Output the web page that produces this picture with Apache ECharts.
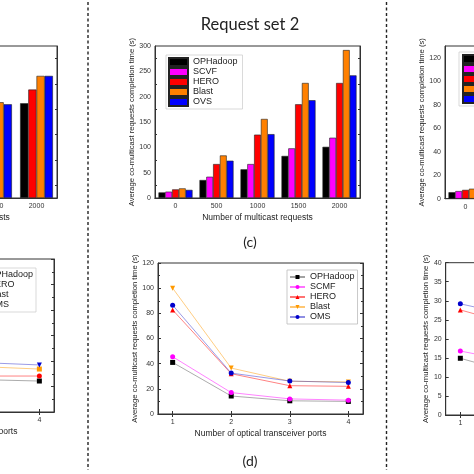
<!DOCTYPE html>
<html><head><meta charset="utf-8">
<script src="https://cdn.jsdelivr.net/npm/echarts@6/dist/echarts.min.js"></script>
<style>html,body{margin:0;padding:0;background:#fff}#c{width:474px;height:474px}</style>
</head><body><div id="c"></div>
<script>
// ---------- data ----------
const requestCats = ['0', '500', '1000', '1500', '2000'];
const portValues = [1, 2, 3, 4];
const rtLabelTicks = [0, 20, 40, 60, 80, 100, 120];

// (c) Request set 2, bars
const cOPHadoop = [11, 35.5, 56.6, 83, 101];
const cSCVF     = [12.5, 42, 67, 98, 119];
const cHERO     = [17, 67, 125, 185, 227];
const cBlast    = [19, 84, 156, 227, 292];
const cOVS      = [16, 73.6, 126, 193, 242];

// (d) lines vs optical transceiver ports
const dOPHadoop = [41, 14.3, 10.5, 10];
const dSCMF     = [45.5, 17, 12, 11];
const dHERO     = [82.7, 32, 22.5, 22];
const dBlast    = [100, 36.5, 26, 25.5];
const dOMS      = [86.5, 32.5, 26.2, 25];

// left (cut) panels
const ltOPHadoop = [null, null, null, null, 187];
const ltHERO     = [null, null, null, null, 214];
const ltBlast    = [null, null, null, 189, 241];
const ltOMS      = [null, null, null, 185, 241];
const lbOPHadoop = [null, null, 25.4, 24.3];
const lbHERO     = [null, null, 28.2, 28.2];
const lbBlast    = [null, null, 35.6, 33.7];
const lbOMS      = [null, null, 38.8, 36.9];

// right (cut) panels
const rtOPHadoop = [5.5, null, null, null, null];
const rtSCMF     = [6.5, null, null, null, null];
const rtHERO     = [7.5, null, null, null, null];
const rtBlast    = [8.5, null, null, null, null];
const rbOPHadoop = [14.9, 10.6, null, null];
const rbSCMF     = [16.8, 13.8, null, null];
const rbHERO     = [27.6, 23.3, null, null];
const rbOMS      = [29.2, 25.8, null, null];

// ---------- styling helpers ----------
const COL = {black:'#000000', mag:'#ff00ff', red:'#ff0000', orange:'#ff8000', blue:'#0000ff'};
const FONT = 'Liberation Sans';
const TXT = '#333';
const YNAME = 'Average co-multicast requests completion time (s)';
const z = n => '\u200b'.repeat(n);

const grids = [
  {left:155, top:46, width:205, height:152},      // 0 (c)
  {left:158, top:263, width:205, height:151},     // 1 (d)
  {left:-148, top:46, width:205, height:152},     // 2 left top
  {left:-151, top:259, width:205, height:153},    // 3 left bottom
  {left:445, top:46, width:205, height:152.7},    // 4 right top
  {left:445.7, top:262.7, width:205, height:152.3}// 5 right bottom
].map(g => Object.assign({show:true, borderColor:'#333', borderWidth:1, backgroundColor:'transparent',
  containLabel:false, outerBoundsMode:'none'}, g));

const xAxes = [], yAxes = [];
function catX(g, name) {
  const base = {type:'category', gridIndex:g, data:requestCats,
    axisLine:{lineStyle:{color:'#333', width:1}},
    axisTick:{inside:true, alignWithLabel:true, length:3, lineStyle:{color:'#333'}},
    splitLine:{show:false}};
  xAxes.push(Object.assign({}, base, {position:'bottom',
    axisLabel:{fontSize:7, color:TXT, margin:5, fontFamily:FONT},
    name:name, nameLocation:'middle', nameGap:15,
    nameTextStyle:{fontSize:8.5, color:'#222', fontFamily:FONT}}));
  xAxes.push(Object.assign({}, base, {position:'top', axisLabel:{show:false}}));
}
function valX(g, name) {
  const base = {type:'value', gridIndex:g, min:0.75, max:4.25,
    axisLine:{show:true, lineStyle:{color:'#333', width:1}},
    axisTick:{inside:true, length:3, customValues:portValues, lineStyle:{color:'#333'}},
    splitLine:{show:false}};
  xAxes.push(Object.assign({}, base, {position:'bottom',
    axisLabel:{fontSize:7, color:TXT, margin:5, fontFamily:FONT, customValues:portValues},
    name:name, nameLocation:'middle', nameGap:15,
    nameTextStyle:{fontSize:8.5, color:'#222', fontFamily:FONT}}));
  xAxes.push(Object.assign({}, base, {position:'top', axisLabel:{show:false}}));
}
function valY(g, max, interval, nameGap, labelValues, minorSplit) {
  const base = {type:'value', gridIndex:g, min:0, max:max, interval:interval,
    axisLine:{show:true, lineStyle:{color:'#333', width:1}},
    axisTick:{inside:true, length:3, lineStyle:{color:'#333'}},
    minorTick:{show:minorSplit > 1, splitNumber:minorSplit || 1, length:2, lineStyle:{color:'#333'}},
    splitLine:{show:false}, minorSplitLine:{show:false}};
  const lab = {fontSize:7, color:TXT, margin:4, fontFamily:FONT};
  if (labelValues) lab.customValues = labelValues;
  yAxes.push(Object.assign({}, base, {position:'left', axisLabel:lab,
    name:YNAME, nameLocation:'middle', nameRotate:90, nameGap:nameGap,
    nameTextStyle:{fontSize:7.6, color:'#222', fontFamily:FONT}}));
  yAxes.push(Object.assign({}, base, {position:'right', axisLabel:{show:false}}));
}

catX(0, 'Number of multicast requests');        valY(0, 300, 50, 18, null, 2);
valX(1, 'Number of optical transceiver ports'); valY(1, 120, 20, 19, null, 2);
catX(2, 'Number of multicast requests');        valY(2, 300, 50, 18, null, 2);
valX(3, 'Number of optical transceiver ports'); valY(3, 120, 20, 19, null, 2);
catX(4, 'Number of multicast requests');        valY(4, 130, 10, 17, rtLabelTicks, 1);
valX(5, 'Number of optical transceiver ports'); valY(5, 40, 5, 12, null, 1);

const series = [];
function bars(g, name, data, color, gap) {
  series.push({type:'bar', name:name, xAxisIndex:2*g, yAxisIndex:2*g, data:data,
    barGap:'0%', barCategoryGap:gap,
    itemStyle:{color:color, borderColor:'#222', borderWidth:0.6}});
}
function line(g, name, ys, color, symbol, rotate, lineColor) {
  series.push({type:'line', name:name, xAxisIndex:2*g, yAxisIndex:2*g,
    data:portValues.map((x, i) => [x, ys[i]]),
    symbol:symbol, symbolRotate:rotate || 0, symbolSize:5,
    itemStyle:{color:color},
    lineStyle:{color:lineColor || color, width:0.9, opacity:0.55}});
}

// (c)
bars(0, 'OPHadoop', cOPHadoop, COL.black, '17%');
bars(0, 'SCVF', cSCVF, COL.mag, '17%');
bars(0, 'HERO', cHERO, COL.red, '17%');
bars(0, 'Blast', cBlast, COL.orange, '17%');
bars(0, 'OVS', cOVS, COL.blue, '17%');
// (d)
line(1, 'OPHadoop' + z(1), dOPHadoop, COL.black, 'rect', 0, '#555');
line(1, 'SCMF' + z(1), dSCMF, COL.mag, 'circle', 0);
line(1, 'HERO' + z(1), dHERO, COL.red, 'triangle', 0);
line(1, 'Blast' + z(1), dBlast, '#ff9900', 'triangle', 180);
line(1, 'OMS' + z(1), dOMS, '#0000cc', 'circle', 0, '#3333cc');
// left top
bars(2, 'OPHadoop' + z(2), ltOPHadoop, COL.black, '20%');
bars(2, 'HERO' + z(2), ltHERO, COL.red, '20%');
bars(2, 'Blast' + z(2), ltBlast, COL.orange, '20%');
bars(2, 'OMS' + z(2), ltOMS, COL.blue, '20%');
// left bottom
line(3, 'OPHadoop' + z(3), lbOPHadoop, COL.black, 'rect', 0, '#555');
line(3, 'HERO' + z(3), lbHERO, COL.red, 'circle', 0);
line(3, 'Blast' + z(3), lbBlast, '#ff9900', 'rect', 0);
line(3, 'OMS' + z(3), lbOMS, '#0000cc', 'triangle', 180, '#3333cc');
// right top
bars(4, 'OPHadoop' + z(4), rtOPHadoop, COL.black, '17%');
bars(4, 'SCMF' + z(4), rtSCMF, COL.mag, '17%');
bars(4, 'HERO' + z(4), rtHERO, COL.red, '17%');
bars(4, 'Blast' + z(4), rtBlast, COL.orange, '17%');
bars(4, 'OMS' + z(4), [null, null, null, null, null], COL.blue, '17%');
// right bottom
line(5, 'OPHadoop' + z(5), rbOPHadoop, COL.black, 'rect', 0, '#555');
line(5, 'SCMF' + z(5), rbSCMF, COL.mag, 'circle', 0);
line(5, 'HERO' + z(5), rbHERO, COL.red, 'triangle', 0);
line(5, 'OMS' + z(5), rbOMS, '#0000cc', 'circle', 0, '#3333cc');

const legTxt = {fontSize:9, color:'#222', fontFamily:FONT, lineHeight:10};
const legends = [
  {data:['OPHadoop','SCVF','HERO','Blast','OVS'], orient:'vertical', left:166, top:55,
   icon:'rect', itemWidth:19, itemHeight:8, itemGap:0, padding:[2,5,2,2],
   borderColor:'#cfcfcf', borderWidth:0.8, textStyle:legTxt, selectedMode:false},
  {data:['OPHadoop','SCMF','HERO','Blast','OMS'].map(n => n + z(1)), orient:'vertical', left:287, top:270,
   itemWidth:15, itemHeight:5, itemGap:0, padding:[2,3,2,2],
   borderColor:'#bbb', borderWidth:0.8, textStyle:legTxt, selectedMode:false},
  {data:['OPHadoop','HERO','Blast','OMS'].map(n => n + z(3)), orient:'vertical', right:438, top:268,
   itemWidth:15, itemHeight:5, itemGap:0, padding:[2,3,2,2],
   borderColor:'#cfcfcf', borderWidth:0.8, textStyle:legTxt, selectedMode:false},
  {data:['OPHadoop','SCMF','HERO','Blast','OMS'].map(n => n + z(4)), orient:'vertical', left:459, top:52,
   icon:'rect', itemWidth:20, itemHeight:8, itemGap:0, padding:[2,3,2,3],
   borderColor:'#cfcfcf', borderWidth:0.8, textStyle:legTxt, selectedMode:false}
];

const dash = {stroke:'#222', lineWidth:1.4, lineDash:[3,2.5]};
const graphic = [
  {type:'line', shape:{x1:88, y1:2, x2:88, y2:470}, style:dash, silent:true},
  {type:'line', shape:{x1:386.5, y1:2, x2:386.5, y2:470}, style:dash, silent:true},
  {type:'text', x:250, y:25, style:{text:'Request set 2', fontSize:16.5, fontFamily:'Lato', fill:'#222', align:'center', verticalAlign:'middle'}},
  {type:'text', x:250, y:242, style:{text:'(c)', fontSize:14, fontFamily:'Lato', fill:'#222', align:'center', verticalAlign:'middle'}},
  {type:'text', x:250, y:461, style:{text:'(d)', fontSize:14, fontFamily:'Lato', fill:'#222', align:'center', verticalAlign:'middle'}}
];

const chart = echarts.init(document.getElementById('c'), null, {renderer:'canvas'});
chart.setOption({
  animation:false,
  backgroundColor:'#fff',
  grid:grids, xAxis:xAxes, yAxis:yAxes, series:series, legend:legends, graphic:graphic
});
</script></body></html>
